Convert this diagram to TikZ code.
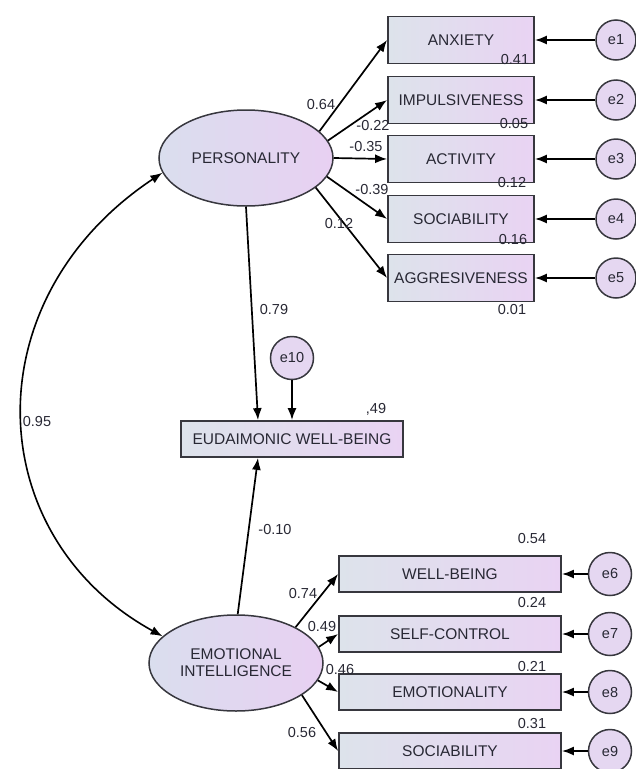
\documentclass[tikz,border=0pt]{standalone}
\usepackage{fontspec}
\setmainfont{Liberation Sans}
\usetikzlibrary{positioning, arrows.meta, shapes.geometric, calc}

\definecolor{boxleft}{RGB}{221,227,235}
\definecolor{boxright}{RGB}{233,211,243}
\definecolor{ellleft}{RGB}{218,222,238}
\definecolor{ellright}{RGB}{232,208,242}
\definecolor{errfill}{RGB}{229,215,241}
\definecolor{edgegray}{RGB}{55,55,62}
\definecolor{txtgray}{RGB}{40,40,52}

\begin{document}
\begin{tikzpicture}[x=1pt, y=-1pt,
    indicator/.style={
        rectangle,
        draw=edgegray,
        line width=1.8pt,
        left color=boxleft,
        right color=boxright,
        minimum width=146pt,
        minimum height=47pt,
        inner sep=0pt,
        text=txtgray,
        font=\fontsize{15.5}{17}\selectfont
    },
    wideind/.style={indicator, minimum width=222pt, minimum height=36pt},
    latent/.style={
        ellipse,
        draw=edgegray,
        line width=1.5pt,
        left color=ellleft,
        right color=ellright,
        minimum width=174pt,
        minimum height=96pt,
        inner sep=0pt,
        align=center,
        text=txtgray,
        font=\fontsize{15.5}{17}\selectfont
    },
    err/.style={circle, draw=edgegray, line width=1.5pt, fill=errfill,
        minimum size=40pt, inner sep=0pt, text=txtgray, font=\fontsize{14.5}{16}\selectfont},
    coef/.style={inner sep=0pt, text=txtgray, font=\fontsize{14.5}{16}\selectfont},
    arrow/.style={-{Latex[length=12pt, width=9pt]}, line width=1.7pt, black},
    bothway/.style={{Latex[length=12pt, width=9pt]}-{Latex[length=12pt, width=9pt]}, line width=1.6pt, black}
]
\useasboundingbox (0,0) rectangle (636,769);
\clip (0,0) rectangle (636,769);

% === Personality and its indicators ===
\node[latent] (pers) at (246,158) {PERSONALITY};
\node[indicator] (anx) at (461,40) {ANXIETY};
\node[indicator] (imp) at (461,100) {IMPULSIVENESS};
\node[indicator] (act) at (461,159) {ACTIVITY};
\node[indicator] (soc) at (461,219) {SOCIABILITY};
\node[indicator] (agg) at (461,278) {AGGRESIVENESS};
\node[err] (e1) at (616,40) {e1};
\node[err] (e2) at (616,100) {e2};
\node[err] (e3) at (616,159) {e3};
\node[err] (e4) at (616,219) {e4};
\node[err] (e5) at (616,278) {e5};

\draw[arrow] (pers.20) -- (anx.west);
\draw[arrow] (pers.12) -- (imp.west);
\draw[arrow] (pers.east) -- (act.west);
\draw[arrow] (pers.-13) -- (soc.west);
\draw[arrow] (pers.-23) -- (agg.west);
\draw[arrow] (e1) -- (anx.east);
\draw[arrow] (e2) -- (imp.east);
\draw[arrow] (e3) -- (act.east);
\draw[arrow] (e4) -- (soc.east);
\draw[arrow] (e5) -- (agg.east);

\node[coef] (lanx) at (321,105) {0.64};
\node[coef] (limp) at (373,126) {-0.22};
\node[coef] (lact) at (366,147) {-0.35};
\node[coef] (lsoc) at (372,190) {-0.39};
\node[coef] (lagg) at (339,224) {0.12};
\node[coef] (ranx) at (515,60) {0.41};
\node[coef] (rimp) at (514,124) {0.05};
\node[coef] (ract) at (512,183) {0.12};
\node[coef] (rsoc) at (513,240) {0.16};
\node[coef] (ragg) at (512,310) {0.01};

% === Outcome ===
\node[wideind] (ewb) at (292,439) {EUDAIMONIC WELL-BEING};
\node[err, minimum size=43pt] (e10) at (292,358) {e10};
\draw[arrow] (pers.south) -- (ewb.north -| 258,0);
\draw[arrow] (e10) -- (ewb.north -| e10);
\node[coef] (lpers) at (274,310) {0.79};
\node[coef] (rewb) at (376,409) {,49};

% === Emotional intelligence and its indicators ===
\node[latent] (ei) at (236,663) {EMOTIONAL\\INTELLIGENCE};
\node[wideind] (wb) at (450,574) {WELL-BEING};
\node[wideind] (sc) at (450,634) {SELF-CONTROL};
\node[wideind] (emo) at (450,692) {EMOTIONALITY};
\node[wideind] (soc2) at (450,751) {SOCIABILITY};
\node[err, minimum size=43pt] (e6) at (610,574) {e6};
\node[err, minimum size=43pt] (e7) at (610,634) {e7};
\node[err, minimum size=43pt] (e8) at (610,692) {e8};
\node[err, minimum size=43pt] (e9) at (610,751) {e9};

\draw[arrow] (ei.31) -- (wb.west);
\draw[arrow] (ei.11) -- (sc.west);
\draw[arrow] (ei.-12) -- (emo.west);
\draw[arrow] (ei.-26) -- (soc2.west);
\draw[arrow] (e6) -- (wb.east);
\draw[arrow] (e7) -- (sc.east);
\draw[arrow] (e8) -- (emo.east);
\draw[arrow] (e9) -- (soc2.east);
\draw[arrow] (ei.88) -- (ewb.south -| 258,0);

\node[coef] (lwb) at (303,594) {0.74};
\node[coef] (lsc) at (322,627) {0.49};
\node[coef] (lemo) at (340,669) {0.46};
\node[coef] (lsoc2) at (302,732) {0.56};
\node[coef] (rwb) at (532,539) {0.54};
\node[coef] (rsc) at (532,602) {0.24};
\node[coef] (remo) at (532,666) {0.21};
\node[coef] (rsoc2) at (532,723) {0.31};
\node[coef] (lei) at (275,530) {-0.10};

% Covariance
\draw[bothway] (pers.190) .. controls +(-191,127) and +(-182,-100) .. (ei.160);
\node[coef] (lcov) at (37,422) {0.95};

\end{tikzpicture}
\end{document}
